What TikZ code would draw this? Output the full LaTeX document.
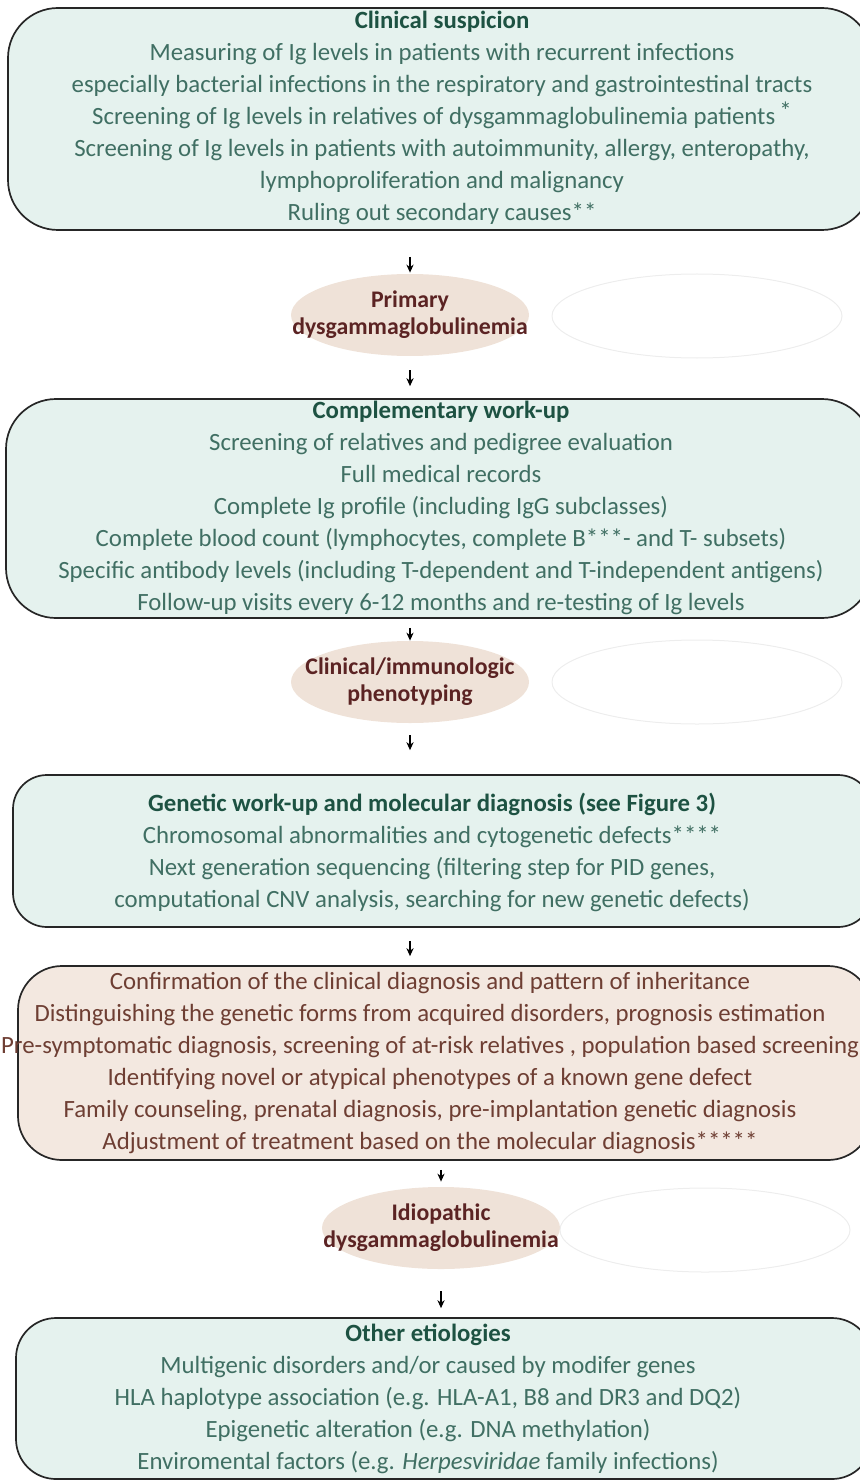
\documentclass[tikz,border=0pt]{standalone}
\usepackage{fontspec}
\setmainfont{Carlito}
\usetikzlibrary{shapes.geometric,arrows.meta}

\definecolor{boxgreen}{HTML}{E5F2EE}
\definecolor{titlegreen}{HTML}{1D5242}
\definecolor{textgreen}{HTML}{406F63}
\definecolor{boxbrown}{HTML}{F3E8E0}
\definecolor{textbrown}{HTML}{6E3E33}
\definecolor{ovalfill}{HTML}{EFE2D8}
\definecolor{ovaltext}{HTML}{5B2323}
\definecolor{ghost}{HTML}{EDEDED}

\newcommand{\hd}[1]{{\bfseries\color{titlegreen}#1}}

\tikzset{
  frame/.style={draw=black!85, line width=0.85pt, fill=boxgreen},
  brownframe/.style={frame, fill=boxbrown},
  boxtext/.style={align=center, text=textgreen, inner sep=0pt,
    font=\fontsize{12.4}{16}\selectfont},
  oval/.style={ellipse, fill=ovalfill, minimum width=119pt, minimum height=41pt,
    inner xsep=-30pt, inner ysep=-10pt, align=center, text=ovaltext,
    font=\bfseries\fontsize{11.9}{13.5}\selectfont},
  ghostoval/.style={ellipse, draw=ghost, line width=0.5pt,
    minimum width=145pt, minimum height=42pt},
  down/.style={-{Stealth[length=4pt,width=3.6pt]}, line width=0.6pt}
}

\begin{document}
\begin{tikzpicture}[x=0.5pt,y=-0.5pt]
  \clip (0,0) rectangle (860,1481);

  % frames
  \node[frame, rounded corners=25pt, minimum width=432pt, minimum height=111pt]
    (clinbox) at (440,119) {};
  \node[frame, rounded corners=25pt, minimum width=433pt, minimum height=109.5pt]
    (workbox) at (439,508.5) {};
  \node[frame, rounded corners=17pt, minimum width=429.5pt, minimum height=76pt]
    (genbox) at (442.5,851) {};
  \node[brownframe, rounded corners=22pt, minimum width=427pt, minimum height=97pt]
    (confbox) at (445,1063) {};
  \node[frame, rounded corners=20pt, minimum width=428pt, minimum height=80.5pt]
    (othbox) at (444,1398.5) {};

  % texts
  \node[boxtext] (clintxt) at (442,118) {\hd{Clinical suspicion}\\
    Measuring of Ig levels in patients with recurrent infections\\
    especially bacterial infections in the respiratory and gastrointestinal tracts\\
    Screening of Ig levels in relatives of dysgammaglobulinemia patients\,\raisebox{2.5pt}{*}\\
    Screening of Ig levels in patients with autoimmunity, allergy, enteropathy,\\
    lymphoproliferation and malignancy\\
    Ruling out secondary causes**};
  \node[boxtext] (worktxt) at (441,508) {\hd{Complementary work-up}\\
    Screening of relatives and pedigree evaluation\\
    Full medical records\\
    Complete Ig profile (including IgG subclasses)\\
    Complete blood count (lymphocytes, complete B***- and T- subsets)\\
    Specific antibody levels (including T-dependent and T-independent antigens)\\
    Follow-up visits every 6-12 months and re-testing of Ig levels};
  \node[boxtext] (gentxt) at (432,852) {\hd{Genetic work-up and molecular diagnosis (see Figure 3)}\\
    Chromosomal abnormalities and cytogenetic defects****\\
    Next generation sequencing (filtering step for PID genes,\\
    computational CNV analysis, searching for new genetic defects)};
  \node[boxtext, text=textbrown] (conftxt) at (430,1063) {%
    Confirmation of the clinical diagnosis and pattern of inheritance\\
    Distinguishing the genetic forms from acquired disorders, prognosis estimation\\
    Pre-symptomatic diagnosis, screening of at-risk relatives , population based screening\\
    Identifying novel or atypical phenotypes of a known gene defect\\
    Family counseling, prenatal diagnosis, pre-implantation genetic diagnosis\\
    Adjustment of treatment based on the molecular diagnosis*****};
  \node[boxtext] (othtxt) at (428,1399) {\hd{Other etiologies}\\
    Multigenic disorders and/or caused by modifer genes\\
    HLA haplotype association (e.g. HLA-A1, B8 and DR3 and DQ2)\\
    Epigenetic alteration (e.g. DNA methylation)\\
    Enviromental factors (e.g. \textit{Herpesviridae} family infections)};

  % ovals
  \node[oval] (primary) at (410,315) {Primary\\dysgammaglobulinemia};
  \node[ghostoval] (ghost1) at (697,316) {};
  \node[oval] (pheno) at (410,682) {Clinical/immunologic\\phenotyping};
  \node[ghostoval] (ghost2) at (697,682) {};
  \node[oval] (idio) at (441,1228) {Idiopathic\\dysgammaglobulinemia};
  \node[ghostoval] (ghost3) at (705,1230) {};

  % arrows
  \draw[down, shorten <=13pt, shorten >=0.5pt] (primary.north |- clinbox.south) -- (primary.north);
  \draw[down, shorten <=7pt, shorten >=6pt] (primary.south) -- (primary.south |- workbox.north);
  \draw[down, shorten <=4.5pt, shorten >=0pt] (pheno.north |- workbox.south) -- (pheno.north);
  \draw[down, shorten <=6pt, shorten >=12pt] (pheno.south) -- (pheno.south |- genbox.north);
  \draw[down, shorten <=6.5pt, shorten >=4.5pt] (pheno.south |- genbox.south) -- (pheno.south |- confbox.north);
  \draw[down, shorten <=4.5pt, shorten >=2.5pt] (idio.north |- confbox.south) -- (idio.north);
  \draw[down, shorten <=11pt, shorten >=4.5pt] (idio.south) -- (idio.south |- othbox.north);
\end{tikzpicture}
\end{document}
